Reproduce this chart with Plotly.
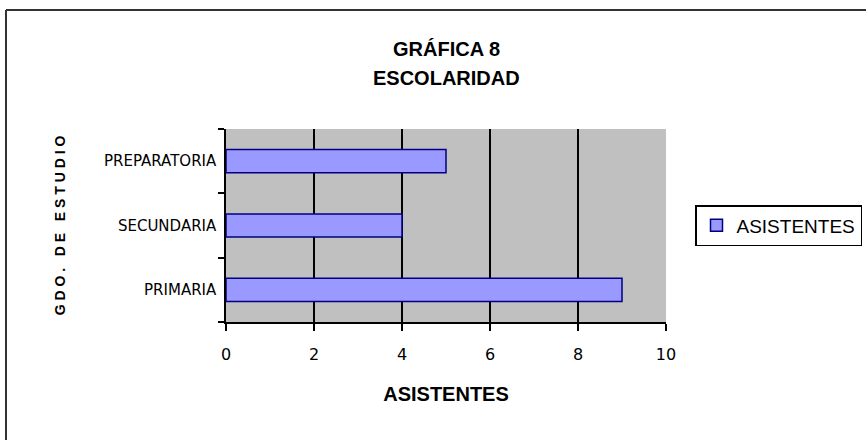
import plotly.graph_objects as go

CATEGORIAS = ["PRIMARIA", "SECUNDARIA", "PREPARATORIA"]
ASISTENTES = [9, 4, 5]
X_TICKS = [0, 2, 4, 6, 8, 10]

SANS = "Liberation Sans, Arial, sans-serif"
WIDE = "DejaVu Sans, Verdana, sans-serif"

fig = go.Figure()
fig.add_trace(
    go.Bar(
        x=ASISTENTES,
        y=CATEGORIAS,
        orientation="h",
        name="ASISTENTES",
        marker=dict(color="#9999ff", line=dict(color="#000080", width=1.5)),
    )
)


def py(pixel_y):
    # pixel row in the 440px page -> paper y (plot area spans rows 129..322)
    return (322 - pixel_y) / 193


def px(pixel_x):
    # pixel column -> paper x (plot area spans columns 226..666)
    return (pixel_x - 226) / 440


fig.update_layout(
    width=866,
    height=440,
    margin=dict(l=226, r=200, t=129, b=118, autoexpand=False),
    paper_bgcolor="white",
    plot_bgcolor="#c0c0c0",
    bargap=0.64,
    showlegend=True,
    legend=dict(
        x=px(862),
        xanchor="right",
        y=0.5,
        yanchor="middle",
        bordercolor="black",
        borderwidth=1.5,
        bgcolor="white",
        font=dict(family=SANS, size=19, color="black"),
        itemwidth=30,
    ),
    annotations=[
        dict(
            text="<b>GRÁFICA 8</b>",
            x=0.5, xref="paper", y=py(49), yref="paper", yanchor="middle",
            showarrow=False, font=dict(family=SANS, size=20, color="black"),
        ),
        dict(
            text="<b>ESCOLARIDAD</b>",
            x=0.5, xref="paper", y=py(78), yref="paper", yanchor="middle",
            showarrow=False, font=dict(family=SANS, size=20, color="black"),
        ),
    ],
)

fig.update_xaxes(
    range=[0, 10],
    tickvals=X_TICKS,
    ticks="outside",
    ticklen=7,
    tickwidth=1.5,
    tickcolor="black",
    ticklabelstandoff=10,
    showline=True,
    linecolor="black",
    linewidth=1.5,
    showgrid=True,
    gridcolor="black",
    gridwidth=1.5,
    zeroline=False,
    tickfont=dict(family=WIDE, size=16, color="black"),
    title=dict(
        text="<b>ASISTENTES</b>",
        font=dict(family=SANS, size=20, color="black"),
        standoff=24,
    ),
)
fig.update_yaxes(
    categoryorder="array",
    categoryarray=CATEGORIAS,
    ticks="outside",
    tickson="boundaries",
    ticklen=6,
    tickwidth=1.5,
    tickcolor="black",
    ticklabelstandoff=5,
    showline=True,
    linecolor="black",
    linewidth=1.5,
    showgrid=False,
    tickfont=dict(family=WIDE, size=15, color="black"),
    title=dict(
        text="<b>G D O .   D E   E S T U D I O</b>",
        font=dict(family=SANS, size=14, color="black"),
        standoff=35,
    ),
)

# outer frame of the chart (only top and left edges are visible)
fig.add_shape(type="line", xref="paper", yref="paper",
              x0=px(6), x1=px(880), y0=py(10), y1=py(10),
              line=dict(color="#333333", width=2))
fig.add_shape(type="line", xref="paper", yref="paper",
              x0=px(6), x1=px(6), y0=py(10), y1=py(450),
              line=dict(color="#333333", width=2))

fig.write_html(
    "out.html",
    config={"displayModeBar": False},
    post_script="document.body.style.margin='0';",
)
